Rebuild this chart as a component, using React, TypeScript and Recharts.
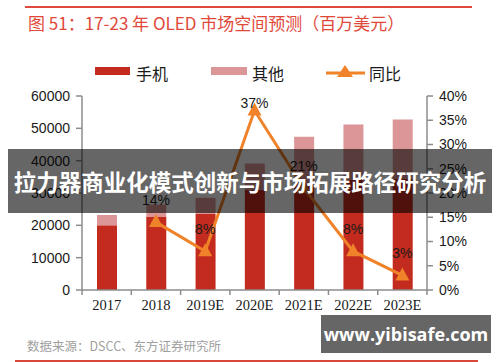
import React from "react";
import {
  ComposedChart,
  Bar,
  Line,
  XAxis,
  YAxis,
  LabelList,
} from "recharts";

const years = ["2017", "2018", "2019E", "2020E", "2021E", "2022E", "2023E"];
const phone = [20000, 22700, 23500, 31000, 33000, 34000, 34500];
const other = [3200, 3700, 5000, 8100, 14400, 17200, 18200];
const yoy = [null, 14, 8, 37, 21, 8, 3];

const leftTicks = [0, 10000, 20000, 30000, 40000, 50000, 60000];
const rightTicks = [0, 5, 10, 15, 20, 25, 30, 35, 40];

const RED = "#C22B1E";
const PINK = "#DC9697";
const ORANGE = "#F08229";
const AXIS = "#8C8C8C";

const data = years.map((year, i) => ({
  year,
  phone: phone[i],
  other: other[i],
  yoy: yoy[i],
}));

const Triangle = (props: any) => {
  const { cx, cy, value } = props;
  if (value == null || cx == null || cy == null) return null;
  return (
    <path
      d={`M${cx},${cy - 8} L${cx + 7},${cy + 5} L${cx - 7},${cy + 5} Z`}
      fill={ORANGE}
    />
  );
};

const YoyLabel = (props: any) => {
  const { x, y, value } = props;
  if (value == null) return null;
  return (
    <text
      x={x}
      y={Math.max(y - 21, 104)}
      textAnchor="middle"
      dominantBaseline="middle"
      fontSize={14}
      fontFamily="'Liberation Sans', Arial, sans-serif"
      fill="#1a1a1a"
    >
      {`${value}%`}
    </text>
  );
};

// year labels in serif, with tick marks between the categories
const YearTick = (props: any) => {
  const { x, y, payload, index } = props;
  const half = 24.6;
  return (
    <g>
      <line x1={x - half} y1={y - 8} x2={x - half} y2={y - 3} stroke={AXIS} strokeWidth={1.5} />
      {index === years.length - 1 && (
        <line x1={x + half} y1={y - 8} x2={x + half} y2={y - 3} stroke={AXIS} strokeWidth={1.5} />
      )}
      <text
        x={x}
        y={y + 12}
        textAnchor="middle"
        fontSize={14.5}
        fontFamily="'Liberation Serif', 'Times New Roman', serif"
        fill="#1a1a1a"
      >
        {payload.value}
      </text>
    </g>
  );
};

const legendText: React.CSSProperties = {
  position: "absolute",
  top: 63,
  fontSize: 16,
  fontFamily: "'Noto Sans CJK SC', sans-serif",
  color: "#1a1a1a",
  lineHeight: "20px",
};

export default function App() {
  return (
    <div
      style={{
        position: "absolute",
        left: 0,
        top: 0,
        width: 500,
        height: 362,
        background: "#fff",
        overflow: "hidden",
        fontFamily: "'Noto Sans CJK SC', sans-serif",
      }}
    >
      <div style={{ position: "absolute", left: 25, top: 6, width: 447, height: 1.5, background: "#E0483A" }} />
      <div
        style={{
          position: "absolute",
          left: 28,
          top: 11,
          fontSize: 17,
          color: "#E0483A",
          lineHeight: "24px",
          whiteSpace: "nowrap",
        }}
      >
        图 51：17-23 年 OLED 市场空间预测（百万美元）
      </div>

      <div style={{ position: "absolute", left: 95, top: 67, width: 35, height: 8, background: RED }} />
      <div style={{ ...legendText, left: 136 }}>手机</div>
      <div style={{ position: "absolute", left: 211, top: 67, width: 36, height: 8, background: PINK }} />
      <div style={{ ...legendText, left: 252 }}>其他</div>
      <svg style={{ position: "absolute", left: 325, top: 62 }} width={42} height={20}>
        <line x1={1} y1={11} x2={40} y2={11} stroke={ORANGE} strokeWidth={3} />
        <path d="M20,3 L28,15 L12,15 Z" fill={ORANGE} />
      </svg>
      <div style={{ ...legendText, left: 369 }}>同比</div>

      <div style={{ position: "absolute", left: 0, top: 0 }}>
        <ComposedChart
          width={500}
          height={362}
          data={data}
          margin={{ top: 96, right: 23, bottom: 42, left: 22 }}
        >
          <XAxis
            dataKey="year"
            axisLine={{ stroke: AXIS, strokeWidth: 1.5 }}
            tickLine={false}
            tick={<YearTick />}
            height={30}
            interval={0}
          />
          <YAxis
            yAxisId="left"
            domain={[0, 60000]}
            ticks={leftTicks}
            width={60}
            axisLine={{ stroke: AXIS, strokeWidth: 1.5 }}
            tickLine={{ stroke: AXIS, strokeWidth: 1.5 }}
            tickSize={6}
            tickMargin={6}
            tick={{ fontSize: 14, fill: "#1a1a1a", fontFamily: "'Liberation Sans', Arial, sans-serif" }}
          />
          <YAxis
            yAxisId="right"
            orientation="right"
            domain={[0, 40]}
            ticks={rightTicks}
            width={50}
            axisLine={{ stroke: AXIS, strokeWidth: 1.5 }}
            tickLine={{ stroke: AXIS, strokeWidth: 1.5 }}
            tickSize={6}
            tickMargin={6}
            tickFormatter={(v: number) => `${v}%`}
            tick={{ fontSize: 14, fill: "#1a1a1a", fontFamily: "'Liberation Sans', Arial, sans-serif" }}
          />
          <Bar yAxisId="left" dataKey="phone" stackId="a" fill={RED} barSize={20} isAnimationActive={false} />
          <Bar yAxisId="left" dataKey="other" stackId="a" fill={PINK} barSize={20} isAnimationActive={false} />
          <Line
            yAxisId="right"
            dataKey="yoy"
            stroke={ORANGE}
            strokeWidth={3}
            dot={<Triangle />}
            activeDot={false}
            isAnimationActive={false}
          >
            <LabelList dataKey="yoy" content={<YoyLabel />} />
          </Line>
        </ComposedChart>
      </div>

      <div
        style={{
          position: "absolute",
          left: 27,
          top: 337,
          fontSize: 12.5,
          color: "#A0A0A0",
          lineHeight: "18px",
          whiteSpace: "nowrap",
        }}
      >
        数据来源：DSCC、东方证券研究所
      </div>
      <div style={{ position: "absolute", left: 15, top: 360, width: 463, height: 2, background: "#D9463A" }} />

      <div
        style={{
          position: "absolute",
          left: 8,
          top: 149,
          width: 484,
          height: 64,
          background: "rgba(0,0,0,0.6)",
          color: "#fff",
          fontWeight: 700,
          fontSize: 22.5,
          lineHeight: "64px",
          textAlign: "center",
          whiteSpace: "nowrap",
          fontFamily: "'Noto Sans CJK SC', sans-serif",
        }}
      >
        拉力器商业化模式创新与市场拓展路径研究分析
      </div>

      <div
        style={{
          position: "absolute",
          left: 321,
          top: 315,
          width: 170,
          height: 38,
          background: "rgba(0,0,0,0.6)",
          color: "#fff",
          fontWeight: 700,
          fontSize: 18,
          lineHeight: "38px",
          textAlign: "center",
          fontFamily: "'Open Sans', 'DejaVu Sans', sans-serif",
        }}
      >
        www.yibisafe.com
      </div>
    </div>
  );
}
